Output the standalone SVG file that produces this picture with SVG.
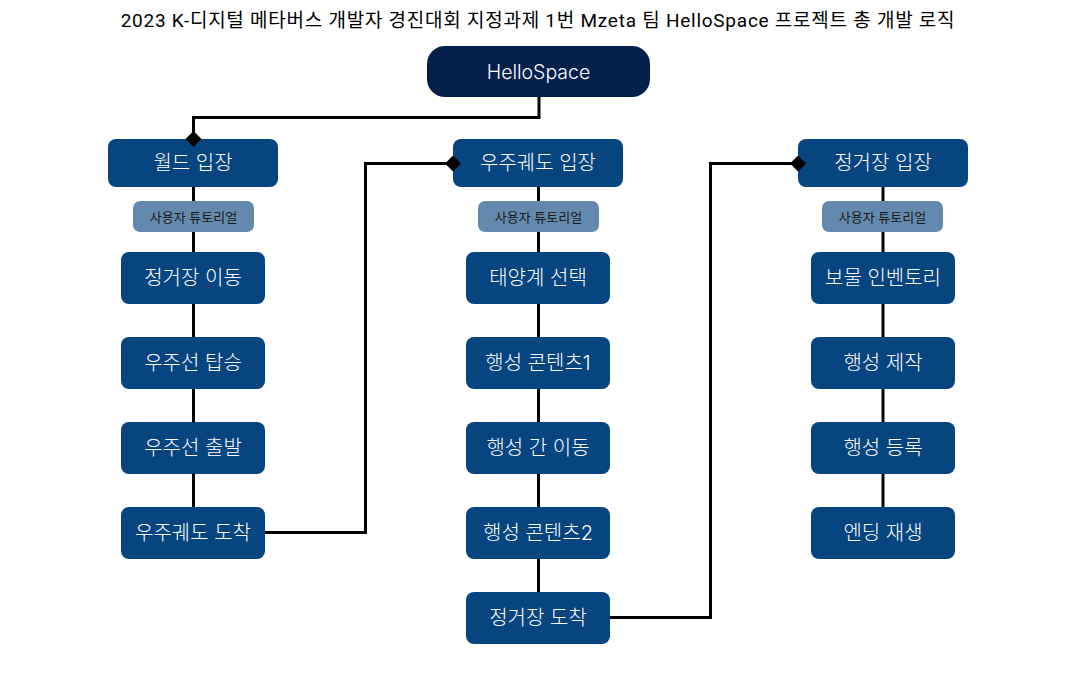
<svg xmlns="http://www.w3.org/2000/svg" width="1077" height="682" viewBox="0 0 1077 682">
<defs>
<style>
.bg{fill:#ffffff}
.title{font-family:"Roboto","Noto Sans CJK KR",sans-serif;font-size:19px;letter-spacing:0.75px;fill:#000000;text-anchor:middle}
.root rect{fill:#03204d}
.node rect{fill:#06457f}
.tut rect{fill:#6489ae}
.node text,.root text{font-family:"Inter","Noto Sans CJK KR",sans-serif;font-size:20px;font-weight:300;fill:#ffffff;text-anchor:middle;dominant-baseline:central}
.root text{font-size:19.5px}
.tut text{font-family:"Inter","Noto Sans CJK KR",sans-serif;font-size:13px;fill:#1a1a1a;text-anchor:middle;dominant-baseline:central}
.edge{fill:none;stroke:#000000;stroke-width:3}
</style>
<marker id="dia" viewBox="0 0 16 16" refX="8" refY="8" markerWidth="16" markerHeight="16" markerUnits="userSpaceOnUse" orient="auto">
<path d="M0,8 L8,0 L16,8 L8,16 Z" fill="#000000"/>
</marker>
</defs>
<rect class="bg" x="0" y="0" width="1077" height="682"/>
<text id="title" class="title" x="538" y="27">2023 K-디지털 메타버스 개발자 경진대회 지정과제 1번 Mzeta 팀 HelloSpace 프로젝트 총 개발 로직</text>

<g id="n-root" class="root"><rect x="427" y="46" width="223" height="51" rx="18"/><text x="538.5" y="72">HelloSpace</text></g>

<g id="n-world" class="node"><rect x="108" y="139" width="170" height="48" rx="8"/><text x="193" y="163">월드 입장</text></g>
<g id="n-tut1" class="tut"><rect x="133" y="201" width="121" height="31" rx="7"/><text x="193.5" y="216.5">사용자 튜토리얼</text></g>
<g id="n-move" class="node"><rect x="121" y="252" width="144" height="52" rx="8"/><text x="193" y="278">정거장 이동</text></g>
<g id="n-board" class="node"><rect x="121" y="337" width="144" height="52" rx="8"/><text x="193" y="363">우주선 탑승</text></g>
<g id="n-depart" class="node"><rect x="121" y="422" width="144" height="52" rx="8"/><text x="193" y="448">우주선 출발</text></g>
<g id="n-orbitarr" class="node"><rect x="121" y="507" width="144" height="52" rx="8"/><text x="193" y="533">우주궤도 도착</text></g>

<g id="n-orbit" class="node"><rect x="453" y="139" width="170" height="48" rx="8"/><text x="538" y="163">우주궤도 입장</text></g>
<g id="n-tut2" class="tut"><rect x="478" y="201" width="121" height="31" rx="7"/><text x="538.5" y="216.5">사용자 튜토리얼</text></g>
<g id="n-solar" class="node"><rect x="466" y="252" width="144" height="52" rx="8"/><text x="538" y="278">태양계 선택</text></g>
<g id="n-pc1" class="node"><rect x="466" y="337" width="144" height="52" rx="8"/><text x="538" y="363">행성 콘텐츠1</text></g>
<g id="n-pmove" class="node"><rect x="466" y="422" width="144" height="52" rx="8"/><text x="538" y="448">행성 간 이동</text></g>
<g id="n-pc2" class="node"><rect x="466" y="507" width="144" height="52" rx="8"/><text x="538" y="533">행성 콘텐츠2</text></g>
<g id="n-stationarr" class="node"><rect x="466" y="592" width="144" height="52" rx="8"/><text x="538" y="618">정거장 도착</text></g>

<g id="n-station" class="node"><rect x="798" y="139" width="170" height="48" rx="8"/><text x="883" y="163">정거장 입장</text></g>
<g id="n-tut3" class="tut"><rect x="822" y="201" width="121" height="31" rx="7"/><text x="882.5" y="216.5">사용자 튜토리얼</text></g>
<g id="n-inv" class="node"><rect x="811" y="252" width="144" height="52" rx="8"/><text x="883" y="278">보물 인벤토리</text></g>
<g id="n-make" class="node"><rect x="811" y="337" width="144" height="52" rx="8"/><text x="883" y="363">행성 제작</text></g>
<g id="n-reg" class="node"><rect x="811" y="422" width="144" height="52" rx="8"/><text x="883" y="448">행성 등록</text></g>
<g id="n-end" class="node"><rect x="811" y="507" width="144" height="52" rx="8"/><text x="883" y="533">엔딩 재생</text></g>

<g id="connectors">
<path class="edge" d="M539,97 V117.5 H193.5 V139" marker-end="url(#dia)"/>
<path class="edge" d="M193.5,187 V201"/>
<path class="edge" d="M193.5,232 V252"/>
<path class="edge" d="M193.5,304 V337"/>
<path class="edge" d="M193.5,389 V422"/>
<path class="edge" d="M193.5,474 V507"/>
<path class="edge" d="M265,532.5 H365.5 V163.5 H453" marker-end="url(#dia)"/>
<path class="edge" d="M538.5,187 V201"/>
<path class="edge" d="M538.5,232 V252"/>
<path class="edge" d="M538.5,304 V337"/>
<path class="edge" d="M538.5,389 V422"/>
<path class="edge" d="M538.5,474 V507"/>
<path class="edge" d="M538.5,559 V592"/>
<path class="edge" d="M610,617.5 H710.5 V163.5 H798" marker-end="url(#dia)"/>
<path class="edge" d="M883,187 V201"/>
<path class="edge" d="M883,232 V252"/>
<path class="edge" d="M883,304 V337"/>
<path class="edge" d="M883,389 V422"/>
<path class="edge" d="M883,474 V507"/>
</g>
</svg>
